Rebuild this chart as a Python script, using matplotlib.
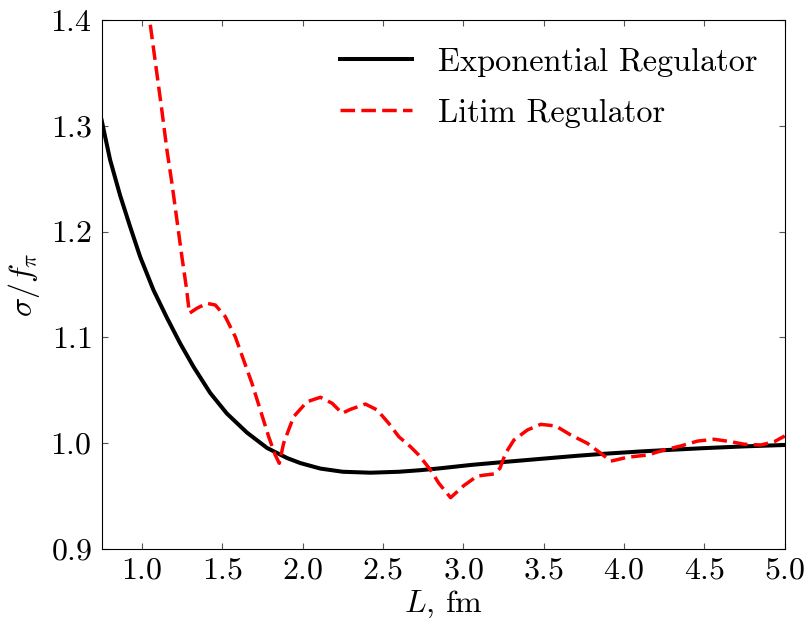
import numpy as np
import matplotlib
matplotlib.use("Agg")
import matplotlib.pyplot as plt

plt.rcParams["font.family"] = "serif"
plt.rcParams["font.serif"] = ["cmr10"]
plt.rcParams["mathtext.fontset"] = "cm"
plt.rcParams["axes.unicode_minus"] = False
plt.rcParams["axes.formatter.use_mathtext"] = True

# ── Exponential regulator (smooth) ────────────────────────────────────────────
exp_L = [0.75, 0.802, 0.865, 0.927, 0.989, 1.072, 1.156, 1.238, 1.321, 1.425,
         1.529, 1.654, 1.779, 1.903, 1.986, 2.111, 2.25, 2.422, 2.60, 2.734,
         2.858, 3.045, 3.25, 3.482, 3.70, 3.876, 4.104, 4.30, 4.479, 4.75,
         5.0]
exp_s = [1.305, 1.268, 1.234, 1.2046, 1.1763, 1.1448, 1.1185, 1.0944, 1.0723, 1.0475,
         1.0280, 1.0100, 0.9955, 0.9860, 0.9812, 0.9760, 0.9730, 0.9721, 0.9730, 0.9745,
         0.9763, 0.9794, 0.9822, 0.9852, 0.9880, 0.9900, 0.9922, 0.9938, 0.9952, 0.997,
         0.9983]

# ── Litim regulator (oscillating) ─────────────────────────────────────────────
lit_L = [1.035, 1.124, 1.156, 1.187, 1.218, 1.249, 1.276, 1.296, 1.342, 1.405,
         1.457, 1.519, 1.581, 1.633, 1.685, 1.737, 1.789, 1.830, 1.855, 1.882,
         1.944, 2.028, 2.111, 2.184, 2.246, 2.298, 2.391, 2.464, 2.536, 2.599,
         2.671, 2.723, 2.796, 2.848, 2.921, 3.004, 3.087, 3.190, 3.228, 3.263,
         3.315, 3.399, 3.482, 3.575, 3.668, 3.772, 3.855, 3.918, 4.021, 4.146,
         4.250, 4.354, 4.458, 4.561, 4.665, 4.748, 4.852, 4.935, 5.0]
lit_s = [1.415, 1.315, 1.277, 1.2457, 1.211, 1.1763, 1.148, 1.1228, 1.1275, 1.1322,
         1.1306, 1.1196, 1.1007, 1.0786, 1.0566, 1.0314, 1.0061, 0.9888, 0.981, 0.9999,
         1.025, 1.0392, 1.0434, 1.0377, 1.0283, 1.032, 1.037, 1.0314, 1.0188, 1.0061,
         0.9967, 0.9888, 0.9747, 0.9621, 0.9485, 0.9600, 0.969, 0.9709, 0.9763, 0.9905,
         1.003, 1.0125, 1.0178, 1.0163, 1.0078, 0.9999, 0.9905, 0.9830, 0.9867, 0.9888,
         0.9936, 0.9974, 1.002, 1.0037, 1.0014, 0.999, 0.9983, 1.0014, 1.0068]

fig = plt.figure(figsize=(8.09, 6.24), dpi=100)
ax = fig.add_axes([0.1257, 0.1202, 0.8443, 0.8478])

ax.plot(exp_L, exp_s, color="black", lw=2.9, label="Exponential Regulator",
        solid_joinstyle="round")
ax.plot(lit_L, lit_s, color="red", lw=2.5, ls=(0, (4.2, 1.8)),
        dash_joinstyle="round", label="Litim Regulator")

ax.set_xlim(0.75, 5.0)
ax.set_ylim(0.9, 1.4)
ax.set_xticks(np.arange(1.0, 5.01, 0.5))
ax.set_yticks(np.arange(0.9, 1.401, 0.1))
ax.tick_params(direction="in", top=True, right=True, length=4, width=0.8,
               labelsize=23, color="#555555")
ax.tick_params(axis="x", pad=6)
ax.tick_params(axis="y", pad=7)

ax.set_xlabel("$L$, fm", fontsize=23, labelpad=3)
ax.set_ylabel(r"$\sigma/f_\pi$", fontsize=23, labelpad=6)

ax.legend(loc="upper right", frameon=False, fontsize=23.3, handlelength=2.22,
          handletextpad=0.8, labelspacing=0.68, borderaxespad=0.45)

fig.savefig("out.png", dpi=100, facecolor="white")
